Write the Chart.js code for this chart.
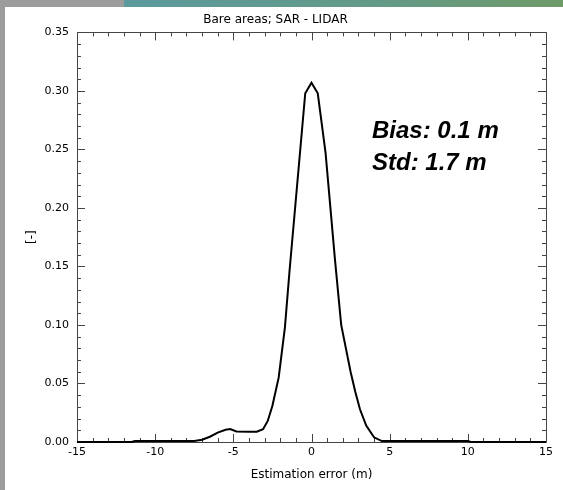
<!DOCTYPE html>
<html>
<head>
<meta charset="utf-8">
<script src="https://cdn.jsdelivr.net/npm/chart.js@4.4.1/dist/chart.umd.min.js"></script>
<style>
  html, body { margin: 0; padding: 0; }
  body { width: 563px; height: 490px; position: relative; overflow: hidden; background: #9c9c9c; }
  #strip { position: absolute; left: 124px; top: 0; width: 439px; height: 7px;
           background: linear-gradient(to right, #5c9a9e, #649a86 60%, #6e9a68); }
  #wrap { position: absolute; left: 5px; top: 7px; width: 558px; height: 483px; background: #fff; }
</style>
</head>
<body>
<div id="strip"></div>
<div id="wrap"><canvas id="chart_bareAreas" width="558" height="483"></canvas></div>
<script>
// error histogram, bare areas (SAR - LIDAR)
var errX = [-15, -11.5, -11.3, -8.0, -7.5, -7.0, -6.5, -6.0, -5.5, -5.2, -4.8, -4.0, -3.5, -3.1, -2.8, -2.5, -2.1, -1.7, -1.4,
            -0.4, 0.0, 0.4, 0.9, 1.5, 1.9, 2.2, 2.5, 2.8, 3.1, 3.5, 4.0, 4.5, 10.0, 10.2, 15];
var density = [0, 0, 0.0008, 0.0008, 0.0009, 0.002, 0.0045, 0.008, 0.0105, 0.011, 0.009, 0.0088, 0.0088, 0.011, 0.018, 0.031, 0.055, 0.098, 0.147,
               0.298, 0.307, 0.298, 0.247, 0.156, 0.100, 0.080, 0.060, 0.043, 0.028, 0.014, 0.004, 0.0008, 0.0008, 0, 0];
var statLines = ['Bias: 0.1 m', 'Std: 1.7 m'];

var FONT = 'DejaVu Sans';

// IDL-style box with inward major/minor ticks on all four sides
var idlFrame = {
    id: 'idlFrame',
    beforeDatasetsDraw: function(chart) {
        var ctx = chart.ctx, a = chart.chartArea;
        var xs = chart.scales.x, ys = chart.scales.y;
        ctx.save();
        ctx.strokeStyle = '#444';
        ctx.lineWidth = 1;
        ctx.beginPath();
        ctx.rect(Math.round(a.left) + 0.5, Math.round(a.top) + 0.5, Math.round(a.right - a.left), Math.round(a.bottom - a.top));
        for (var v = -15; v <= 15; v++) {
            var len = (v % 5 === 0) ? 8 : 4;
            var px = Math.round(xs.getPixelForValue(v)) + 0.5;
            ctx.moveTo(px, a.bottom); ctx.lineTo(px, a.bottom - len);
            ctx.moveTo(px, a.top); ctx.lineTo(px, a.top + len);
        }
        for (var i = 0; i <= 35; i++) {
            var l2 = (i % 5 === 0) ? 8 : 4;
            var py = Math.round(ys.getPixelForValue(i / 100)) + 0.5;
            ctx.moveTo(a.left, py); ctx.lineTo(a.left + l2, py);
            ctx.moveTo(a.right, py); ctx.lineTo(a.right - l2, py);
        }
        ctx.stroke();
        ctx.restore();
    },
    afterDraw: function(chart) {
        var ctx = chart.ctx, a = chart.chartArea;
        ctx.save();
        ctx.fillStyle = '#000';
        ctx.font = 'italic bold 24px "Liberation Sans"';
        ctx.textBaseline = 'middle';
        ctx.textAlign = 'left';
        statLines.forEach(function(t, k) {
            ctx.fillText(t, a.left + 295, a.top + 99 + k * 32);
        });
        ctx.restore();
    }
};

var chart_bareAreas = new Chart(document.getElementById('chart_bareAreas'), {
    type: 'line',
    data: {
        datasets: [{
            label: 'SAR - LIDAR',
            data: errX.map(function(x, i) { return {x: x, y: density[i]}; }),
            borderColor: '#000',
            borderWidth: 2,
            pointRadius: 0,
            tension: 0,
            fill: false,
            clip: false
        }]
    },
    options: {
        animation: false,
        responsive: false,
        layout: { padding: { left: 0, right: 17, top: 0, bottom: 0 } },
        plugins: {
            legend: { display: false },
            tooltip: { enabled: false },
            title: {
                display: true,
                text: 'Bare areas; SAR - LIDAR',
                color: '#000',
                font: { family: FONT, size: 12, weight: 'normal' },
                padding: { top: 6, bottom: 5 }
            }
        },
        scales: {
            x: {
                type: 'linear',
                min: -15,
                max: 15,
                grid: { display: false, drawTicks: false },
                border: { display: false },
                ticks: {
                    stepSize: 5,
                    padding: 4,
                    color: '#000',
                    font: { family: FONT, size: 11 },
                    maxRotation: 0,
                    callback: function(value) { return String(value); }
                },
                title: {
                    display: true,
                    text: 'Estimation error (m)',
                    color: '#000',
                    font: { family: FONT, size: 12 },
                    padding: { top: 0, bottom: 8 }
                },
                afterFit: function(scale) { scale.height = 48; }
            },
            y: {
                type: 'linear',
                min: 0,
                max: 0.35,
                grid: { display: false, drawTicks: false },
                border: { display: false },
                ticks: {
                    stepSize: 0.05,
                    padding: 8,
                    color: '#000',
                    font: { family: FONT, size: 11 },
                    callback: function(value) { return value.toFixed(2); }
                },
                title: {
                    display: true,
                    text: '[-]',
                    color: '#000',
                    font: { family: FONT, size: 12 },
                    padding: { top: 20, bottom: 0 }
                },
                afterFit: function(scale) { scale.width = 72; }
            }
        }
    },
    plugins: [idlFrame]
});
</script>
</body>
</html>
